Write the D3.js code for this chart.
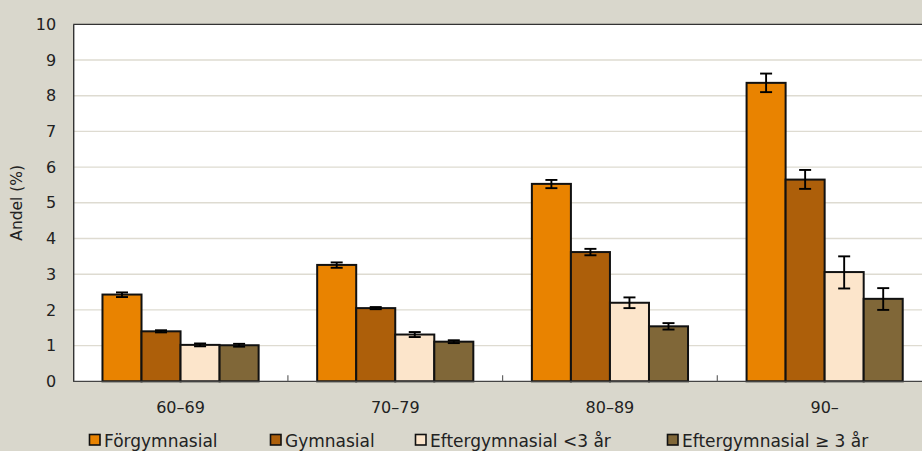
<!DOCTYPE html>
<html>
<head>
<meta charset="utf-8">
<script src="https://cdn.jsdelivr.net/npm/d3@7"></script>
<style>
  html, body { margin: 0; padding: 0; background: #d9d7cc; }
  svg { display: block; font-family: "DejaVu Sans", sans-serif; }
</style>
</head>
<body>
<svg id="chart" width="922" height="451"></svg>
<script>
// Age groups along the x axis
const categories = ["60–69", "70–79", "80–89", "90–"];

// Education levels (legend order)
const seriesNames = ["Förgymnasial", "Gymnasial", "Eftergymnasial <3 år", "Eftergymnasial ≥ 3 år"];
const seriesColors = ["#e98300", "#ad5f0a", "#fce5cb", "#806738"];

// Share (%) per age group for each education level
const forgymnasial      = [2.43, 3.26, 5.53, 8.36];
const gymnasial         = [1.40, 2.05, 3.62, 5.65];
const efterUnder3       = [1.02, 1.31, 2.20, 3.06];
const efterOver3        = [1.01, 1.11, 1.54, 2.31];

// Confidence interval bounds
const forgymnasialLow   = [2.36, 3.18, 5.41, 8.10];
const forgymnasialHigh  = [2.49, 3.33, 5.64, 8.62];
const gymnasialLow      = [1.37, 2.02, 3.53, 5.39];
const gymnasialHigh     = [1.43, 2.08, 3.71, 5.92];
const efterUnder3Low    = [0.98, 1.24, 2.05, 2.60];
const efterUnder3High   = [1.06, 1.38, 2.35, 3.50];
const efterOver3Low     = [0.97, 1.07, 1.45, 2.00];
const efterOver3High    = [1.05, 1.15, 1.63, 2.61];

// Y axis ticks
const yTicks = [0, 1, 2, 3, 4, 5, 6, 7, 8, 9, 10];
const yLabel = "Andel (%)";

const seriesValues = [forgymnasial, gymnasial, efterUnder3, efterOver3];
const seriesLow = [forgymnasialLow, gymnasialLow, efterUnder3Low, efterOver3Low];
const seriesHigh = [forgymnasialHigh, gymnasialHigh, efterUnder3High, efterOver3High];

const svg = d3.select("#chart");

const plot = { left: 73.2, right: 932, top: 24.3, bottom: 381.3 };

const x0 = d3.scaleBand()
  .domain(categories)
  .range([plot.left, plot.right])
  .paddingInner(0).paddingOuter(0);

// bars fill the group, with a gap of 1.5 bar widths shared on both sides
const barW = x0.bandwidth() / (seriesNames.length + 1.5);
const gap = x0.bandwidth() - barW * seriesNames.length;
const x1 = d3.scaleBand()
  .domain(d3.range(seriesNames.length))
  .range([gap / 2, x0.bandwidth() - gap / 2])
  .padding(0);

const y = d3.scaleLinear().domain([0, 10]).range([plot.bottom, plot.top]);

// plot background
svg.append("rect")
  .attr("x", plot.left).attr("y", plot.top)
  .attr("width", plot.right - plot.left).attr("height", plot.bottom - plot.top)
  .attr("fill", "#ffffff");

// horizontal gridlines
svg.append("g")
  .selectAll("line")
  .data(yTicks.filter(t => t > 0 && t < 10))
  .join("line")
  .attr("x1", plot.left).attr("x2", plot.right)
  .attr("y1", d => y(d)).attr("y2", d => y(d))
  .attr("stroke", "#dedbd1").attr("stroke-width", 1.4);

// top border of the plot area
svg.append("line")
  .attr("x1", plot.left).attr("x2", plot.right)
  .attr("y1", plot.top).attr("y2", plot.top)
  .attr("stroke", "#333").attr("stroke-width", 1.2);

// bars
const groups = svg.append("g")
  .selectAll("g")
  .data(categories)
  .join("g")
  .attr("transform", d => `translate(${x0(d)},0)`);

groups.selectAll("rect")
  .data((d, i) => seriesValues.map((vals, s) => ({ s, v: vals[i] })))
  .join("rect")
  .attr("x", d => x1(d.s))
  .attr("y", d => y(d.v))
  .attr("width", x1.bandwidth())
  .attr("height", d => y(0) - y(d.v))
  .attr("fill", d => seriesColors[d.s])
  .attr("stroke", "#111")
  .attr("stroke-width", 2);

// error bars
const capHalf = 6;
const err = groups.selectAll("g.err")
  .data((d, i) => seriesValues.map((vals, s) => ({ s, lo: seriesLow[s][i], hi: seriesHigh[s][i] })))
  .join("g")
  .attr("class", "err")
  .attr("stroke", "#000")
  .attr("stroke-width", 1.9);
err.append("line")
  .attr("x1", d => x1(d.s) + x1.bandwidth() / 2)
  .attr("x2", d => x1(d.s) + x1.bandwidth() / 2)
  .attr("y1", d => y(d.lo)).attr("y2", d => y(d.hi));
err.append("line")
  .attr("x1", d => x1(d.s) + x1.bandwidth() / 2 - capHalf)
  .attr("x2", d => x1(d.s) + x1.bandwidth() / 2 + capHalf)
  .attr("y1", d => y(d.hi)).attr("y2", d => y(d.hi));
err.append("line")
  .attr("x1", d => x1(d.s) + x1.bandwidth() / 2 - capHalf)
  .attr("x2", d => x1(d.s) + x1.bandwidth() / 2 + capHalf)
  .attr("y1", d => y(d.lo)).attr("y2", d => y(d.lo));

// y axis
const yAxis = svg.append("g")
  .attr("transform", `translate(${plot.left},0)`)
  .call(d3.axisLeft(y).tickValues(yTicks).tickSize(0).tickPadding(17).tickFormat(d3.format("d")));
yAxis.select(".domain").attr("stroke", "#333").attr("stroke-width", 1.4);
yAxis.selectAll("text").attr("font-size", 16).attr("fill", "#222")
  .attr("font-family", "DejaVu Sans, sans-serif");

// x axis with inward ticks between groups
const xAxis = svg.append("g")
  .attr("transform", `translate(0,${plot.bottom})`);
xAxis.append("line")
  .attr("x1", plot.left).attr("x2", plot.right)
  .attr("stroke", "#444").attr("stroke-width", 1.2);
xAxis.selectAll("line.tick")
  .data(categories.slice(1))
  .join("line")
  .attr("class", "tick")
  .attr("x1", d => x0(d)).attr("x2", d => x0(d))
  .attr("y1", 0).attr("y2", -6)
  .attr("stroke", "#666").attr("stroke-width", 1.2);
xAxis.selectAll("text")
  .data(categories)
  .join("text")
  .attr("x", d => x0(d) + x0.bandwidth() / 2)
  .attr("y", 32)
  .attr("text-anchor", "middle")
  .attr("font-size", 16)
  .attr("fill", "#222")
  .text(d => d);

// y axis title
svg.append("text")
  .attr("transform", `translate(22,${(plot.top + plot.bottom) / 2}) rotate(-90)`)
  .attr("text-anchor", "middle")
  .attr("font-size", 15.5)
  .attr("fill", "#222")
  .text(yLabel);

// legend
const legendX = [89, 270, 415, 667];
const legend = svg.append("g")
  .selectAll("g")
  .data(seriesNames)
  .join("g")
  .attr("transform", (d, i) => `translate(${legendX[i]},440)`);
legend.append("rect")
  .attr("x", 0.5).attr("y", -5.5)
  .attr("width", 10.5).attr("height", 10.5)
  .attr("fill", (d, i) => seriesColors[i])
  .attr("stroke", "#111").attr("stroke-width", 1.6);
legend.append("text")
  .attr("x", 15).attr("y", 6.5)
  .attr("font-size", 17)
  .attr("fill", "#222")
  .text(d => d);
</script>
</body>
</html>
